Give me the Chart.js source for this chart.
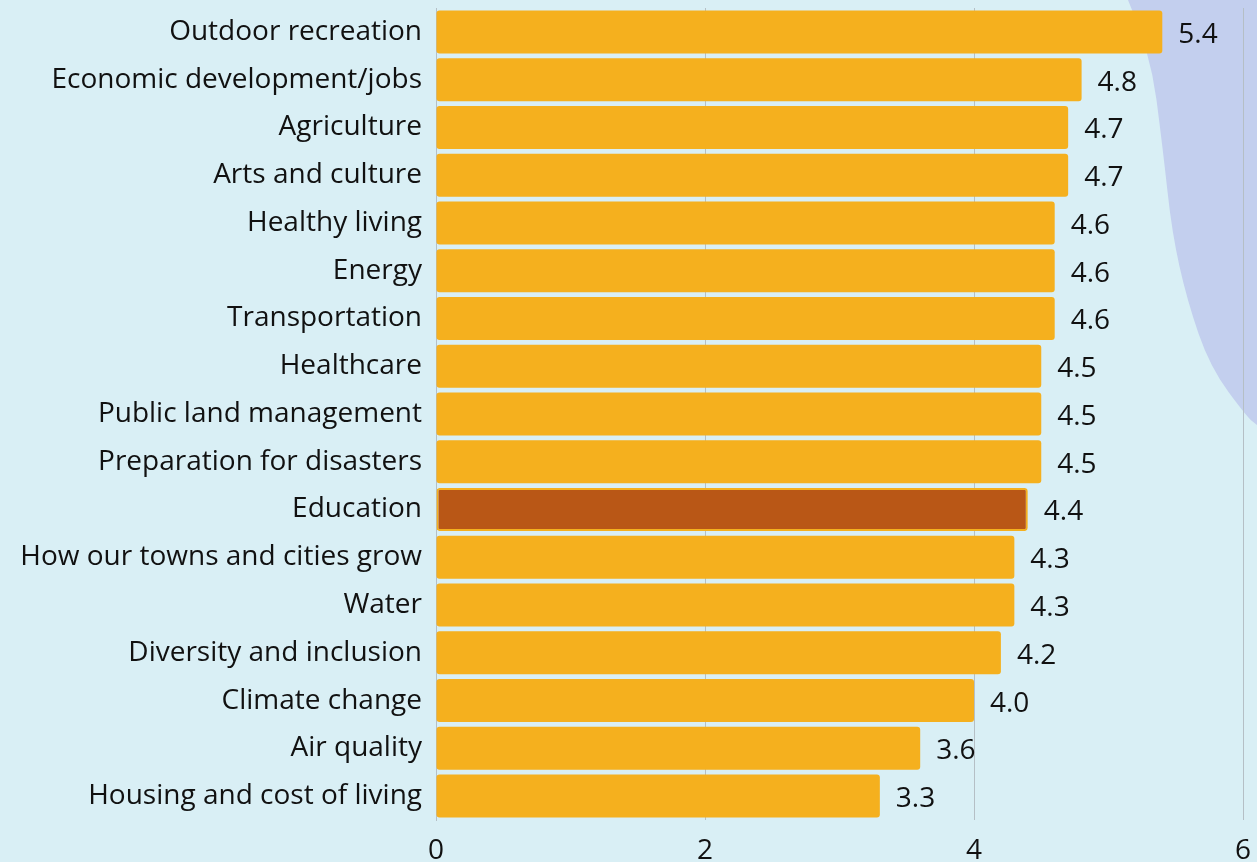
<!DOCTYPE html>
<html>
<head>
<meta charset="utf-8">
<script src="https://cdn.jsdelivr.net/npm/chart.js@4"></script>
<style>
  html, body { margin: 0; padding: 0; background: #d9eff5; }
  #wrap { width: 1257px; height: 862px; }
</style>
</head>
<body>
<div id="wrap"><canvas id="barChart"></canvas></div>
<script>
// data
const categories = [
    "Outdoor recreation",
    "Economic development/jobs",
    "Agriculture",
    "Arts and culture",
    "Healthy living",
    "Energy",
    "Transportation",
    "Healthcare",
    "Public land management",
    "Preparation for disasters",
    "Education",
    "How our towns and cities grow",
    "Water",
    "Diversity and inclusion",
    "Climate change",
    "Air quality",
    "Housing and cost of living"
];
const scores = [5.4, 4.8, 4.7, 4.7, 4.6, 4.6, 4.6, 4.5, 4.5, 4.5, 4.4, 4.3, 4.3, 4.2, 4.0, 3.6, 3.3];
const highlighted = "Education";
const xTicks = [0, 2, 4, 6];

const FONT = "'Open Sans'";
const ORANGE = "#f5b01e";
const RUST = "#b95716";

// background + the blue blob in the corner (decoration, not data)
const blobEdge = [[1128, 0], [1150, 50], [1163, 150], [1172, 233], [1187, 300], [1210, 367], [1247, 417], [1257, 425]];
const backdrop = {
    id: 'backdrop',
    beforeDraw(chart) {
        const c = chart.ctx;
        const w = chart.width;
        c.save();
        c.fillStyle = "#d9eff5";
        c.fillRect(0, 0, w, chart.height);
        c.fillStyle = "#c3cfee";
        c.beginPath();
        c.moveTo(blobEdge[0][0], blobEdge[0][1]);
        for (let i = 1; i < blobEdge.length - 1; i++) {
            const mx = (blobEdge[i][0] + blobEdge[i + 1][0]) / 2;
            const my = (blobEdge[i][1] + blobEdge[i + 1][1]) / 2;
            c.quadraticCurveTo(blobEdge[i][0], blobEdge[i][1], mx, my);
        }
        const last = blobEdge[blobEdge.length - 1];
        c.lineTo(last[0], last[1]);
        c.lineTo(w, 0);
        c.closePath();
        c.fill();
        c.restore();
    }
};

// value labels next to each bar
const valueLabels = {
    id: 'valueLabels',
    afterDatasetsDraw(chart) {
        const c = chart.ctx;
        const meta = chart.getDatasetMeta(0);
        c.save();
        c.font = "28px " + FONT;
        c.fillStyle = "#111";
        c.textBaseline = "middle";
        c.textAlign = "left";
        meta.data.forEach((bar, i) => {
            c.fillText(scores[i].toFixed(1), bar.x + 16, bar.y + 3);
        });
        c.restore();
    }
};

let ctx = document.getElementById("barChart").getContext("2d");
window.myBar = new Chart(ctx, {
    type: 'bar',
    data: {
        labels: categories,
        datasets: [{
            data: scores,
            backgroundColor: categories.map(c => c === highlighted ? RUST : ORANGE),
            borderColor: ORANGE,
            borderWidth: categories.map(c => c === highlighted ? 2 : 0),
            borderSkipped: false,
            borderRadius: 3,
            categoryPercentage: 0.9,
            barPercentage: 1.0
        }]
    },
    plugins: [backdrop, valueLabels],
    options: {
        indexAxis: 'y',
        responsive: true,
        maintainAspectRatio: false,
        animation: false,
        layout: {
            padding: {top: 8, right: 14, left: 0, bottom: 0}
        },
        plugins: {
            legend: {display: false},
            tooltip: {enabled: false}
        },
        scales: {
            x: {
                min: 0,
                max: 6,
                afterBuildTicks(axis) {
                    axis.ticks = xTicks.map(v => ({value: v}));
                },
                afterFit(axis) {
                    axis.height = 42;
                    axis.paddingRight = 0;
                    axis.paddingLeft = 0;
                },
                grid: {color: "#b5bfc5", drawTicks: false, lineWidth: 1},
                border: {display: false},
                ticks: {
                    color: "#111",
                    font: {family: FONT, size: 28, lineHeight: 1.0},
                    padding: 17
                }
            },
            y: {
                afterFit(axis) {
                    axis.width = 436;
                    axis.paddingTop = 0;
                    axis.paddingBottom = 0;
                },
                grid: {display: false, drawTicks: false},
                border: {display: true, color: "#b5bfc5"},
                ticks: {
                    color: "#111",
                    font: {family: FONT, size: 28},
                    padding: 14,
                    autoSkip: false
                }
            }
        }
    }
});
</script>
</body>
</html>
